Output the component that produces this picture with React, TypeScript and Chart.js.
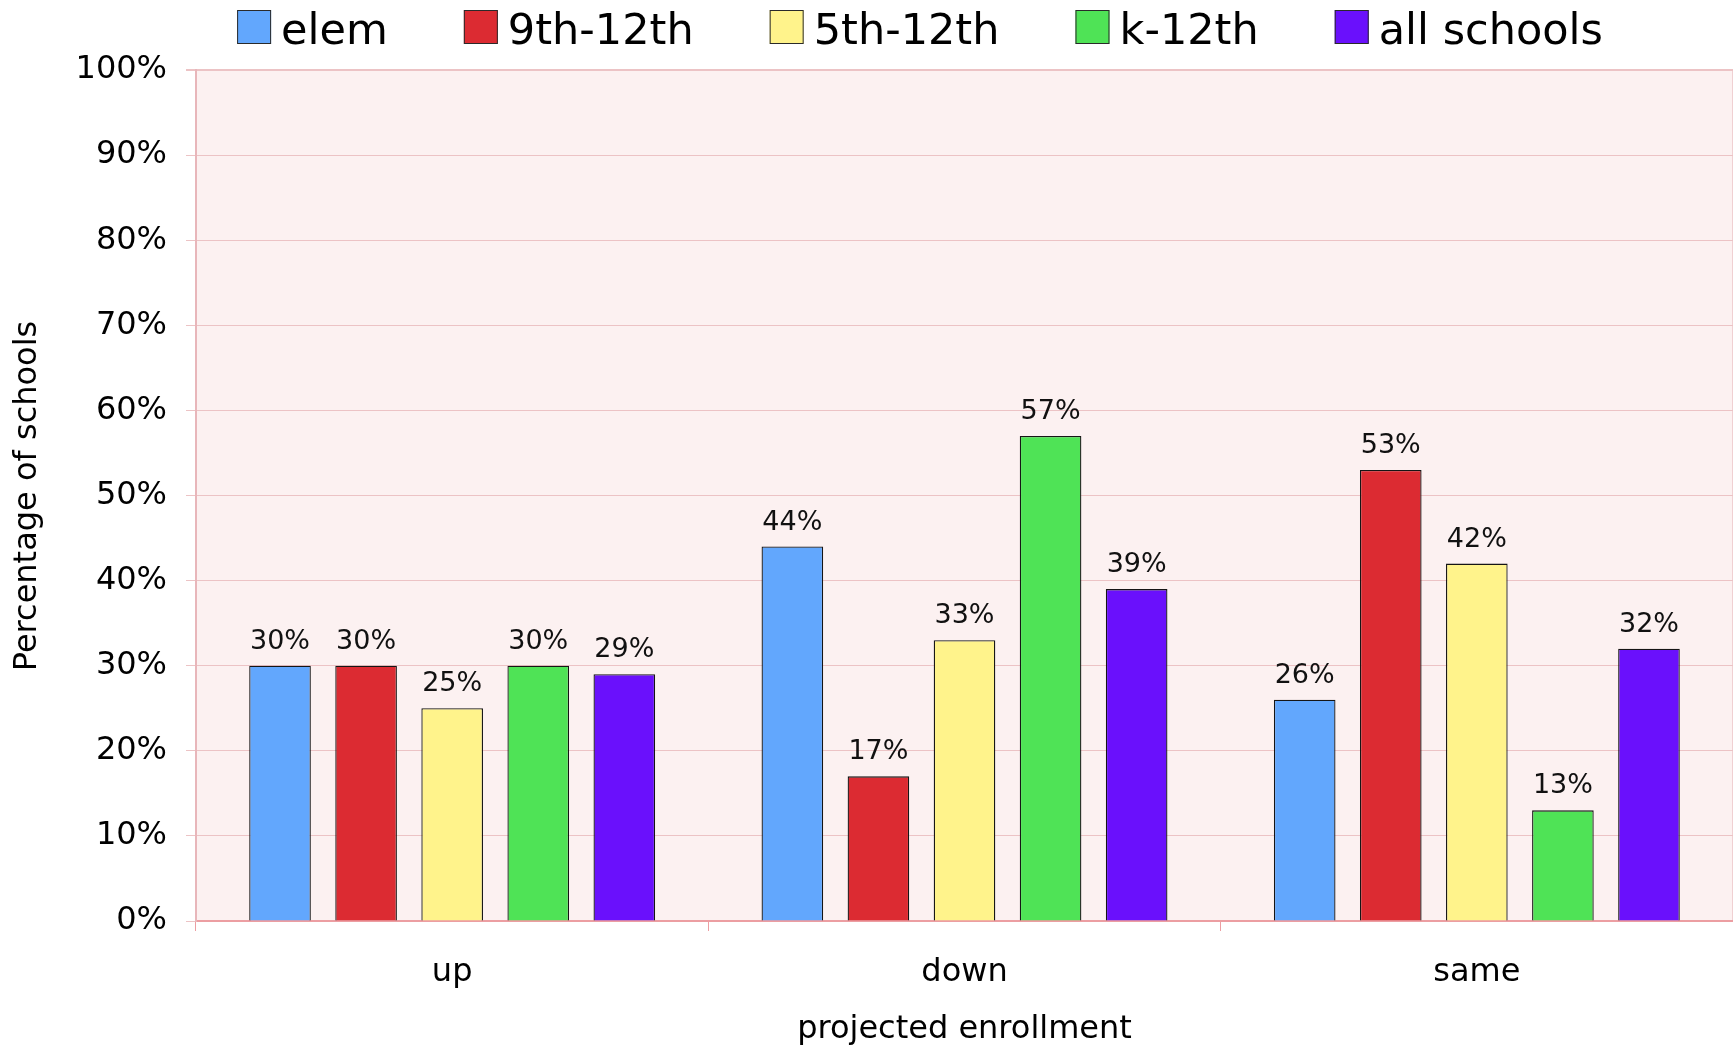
import React, { useEffect, useRef } from 'react';
import { Chart, registerables } from 'chart.js';

Chart.register(...registerables);

// ---- Data ----
const categories = ['up', 'down', 'same'];
const seriesNames = ['elem', '9th-12th', '5th-12th', 'k-12th', 'all schools'];
const elemValues = [30, 44, 26];
const grade9to12Values = [30, 17, 53];
const grade5to12Values = [25, 33, 42];
const k12Values = [30, 57, 13];
const allSchoolsValues = [29, 39, 32];
const seriesColors = ['#62a7fd', '#dc2b32', '#fff38b', '#4fe356', '#6a10fc'];
const yAxisTitle = 'Percentage of schools';
const xAxisTitle = 'projected enrollment';

const FONT = '"DejaVu Sans", Verdana, sans-serif';

const bgPlugin = {
  id: 'bgPlugin',
  beforeDraw(chart: any) {
    const { ctx, chartArea } = chart;
    ctx.save();
    ctx.fillStyle = '#ffffff';
    ctx.fillRect(0, 0, chart.width, chart.height);
    ctx.fillStyle = '#fcf1f1';
    ctx.fillRect(chartArea.left, chartArea.top, chartArea.right - chartArea.left, chartArea.bottom - chartArea.top);
    ctx.strokeStyle = '#f0d0d2';
    ctx.lineWidth = 1;
    ctx.beginPath();
    ctx.moveTo(chartArea.right - 0.5, chartArea.top);
    ctx.lineTo(chartArea.right - 0.5, chartArea.bottom);
    ctx.stroke();
    ctx.restore();
  },
};

const labelPlugin = {
  id: 'valueLabels',
  afterDatasetsDraw(chart: any) {
    const { ctx } = chart;
    ctx.save();
    ctx.font = `27px ${FONT}`;
    ctx.fillStyle = '#111111';
    ctx.textAlign = 'center';
    ctx.textBaseline = 'alphabetic';
    chart.data.datasets.forEach((ds: any, di: number) => {
      const meta = chart.getDatasetMeta(di);
      meta.data.forEach((el: any, i: number) => {
        ctx.fillText(`${ds.data[i]}%`, el.x, el.y - 17);
      });
    });
    ctx.restore();
  },
};

const legendPlugin = {
  id: 'customLegend',
  afterDraw(chart: any) {
    const { ctx } = chart;
    ctx.save();
    ctx.font = `43px ${FONT}`;
    ctx.textAlign = 'left';
    ctx.textBaseline = 'alphabetic';
    const box = 34;
    const boxGap = 10;
    const itemGap = 76;
    const items = chart.data.datasets.map((ds: any) => ({
      label: ds.label,
      color: ds.backgroundColor,
      w: ctx.measureText(ds.label).width,
    }));
    const total = items.reduce((s: number, it: any) => s + box + boxGap + it.w, 0) + itemGap * (items.length - 1);
    let x = 920 - total / 2;
    items.forEach((it: any) => {
      ctx.fillStyle = it.color;
      ctx.fillRect(x, 10, box, box);
      ctx.strokeStyle = '#2a2a2a';
      ctx.lineWidth = 1;
      ctx.strokeRect(x + 0.5, 10.5, box - 1, box - 1);
      ctx.fillStyle = '#000000';
      ctx.fillText(it.label, x + box + boxGap, 44);
      x += box + boxGap + it.w + itemGap;
    });
    ctx.restore();
  },
};

const yTitlePlugin = {
  id: 'yTitle',
  afterDraw(chart: any) {
    const { ctx } = chart;
    ctx.save();
    ctx.translate(28, 496);
    ctx.rotate(-Math.PI / 2);
    ctx.font = `32px ${FONT}`;
    ctx.fillStyle = '#000000';
    ctx.textAlign = 'center';
    ctx.textBaseline = 'middle';
    ctx.fillText(yAxisTitle, 0, 0);
    ctx.restore();
  },
};

export default function App() {
  const canvasRef = useRef<HTMLCanvasElement | null>(null);

  useEffect(() => {
    document.body.style.margin = '0';
    document.body.style.overflow = 'hidden';
    const canvas = canvasRef.current;
    if (!canvas) return;
    const seriesValues = [elemValues, grade9to12Values, grade5to12Values, k12Values, allSchoolsValues];
    const chart = new Chart(canvas, {
      type: 'bar',
      data: {
        labels: categories,
        datasets: seriesNames.map((name, i) => ({
          label: name,
          data: seriesValues[i],
          backgroundColor: seriesColors[i],
          borderColor: '#151515',
          borderWidth: 1.3,
          categoryPercentage: 0.84,
          barPercentage: 0.716,
        })),
      },
      options: {
        responsive: false,
        animation: false,
        devicePixelRatio: 1,
        layout: { padding: { top: 70, left: 0, right: 0, bottom: 0 } },
        plugins: {
          legend: { display: false },
          tooltip: { enabled: false },
          title: { display: false },
        },
        scales: {
          x: {
            grid: {
              offset: true,
              drawOnChartArea: false,
              drawTicks: true,
              tickLength: 10,
              color: '#ec9ea2',
              lineWidth: 1,
            },
            border: { display: true, color: '#ec9ea2', width: 2 },
            ticks: { font: { family: FONT, size: 32 }, color: '#000000', padding: 22 },
            title: {
              display: true,
              text: xAxisTitle,
              font: { family: FONT, size: 32 },
              color: '#000000',
              padding: { top: 0, bottom: 1 },
            },
            afterFit: (s: any) => {
              s.height = 129;
            },
          },
          y: {
            min: 0,
            max: 100,
            ticks: {
              stepSize: 10,
              callback: (v: any) => `${v}%`,
              font: { family: FONT, size: 32 },
              color: '#000000',
              padding: 19,
            },
            grid: {
              color: '#ecc3c5',
              tickLength: 10,
              lineWidth: (c: any) => (c.tick && c.tick.value === 100 ? 2 : 1),
            },
            border: { display: true, color: '#e8b6ba', width: 2 },
            afterFit: (s: any) => {
              s.width = 196;
            },
          },
        },
      },
      plugins: [bgPlugin, labelPlugin, legendPlugin, yTitlePlugin],
    });
    return () => chart.destroy();
  }, []);

  return (
    <div style={{ width: 1733, height: 1050 }}>
      <canvas ref={canvasRef} width={1733} height={1050} style={{ display: 'block' }} />
    </div>
  );
}
